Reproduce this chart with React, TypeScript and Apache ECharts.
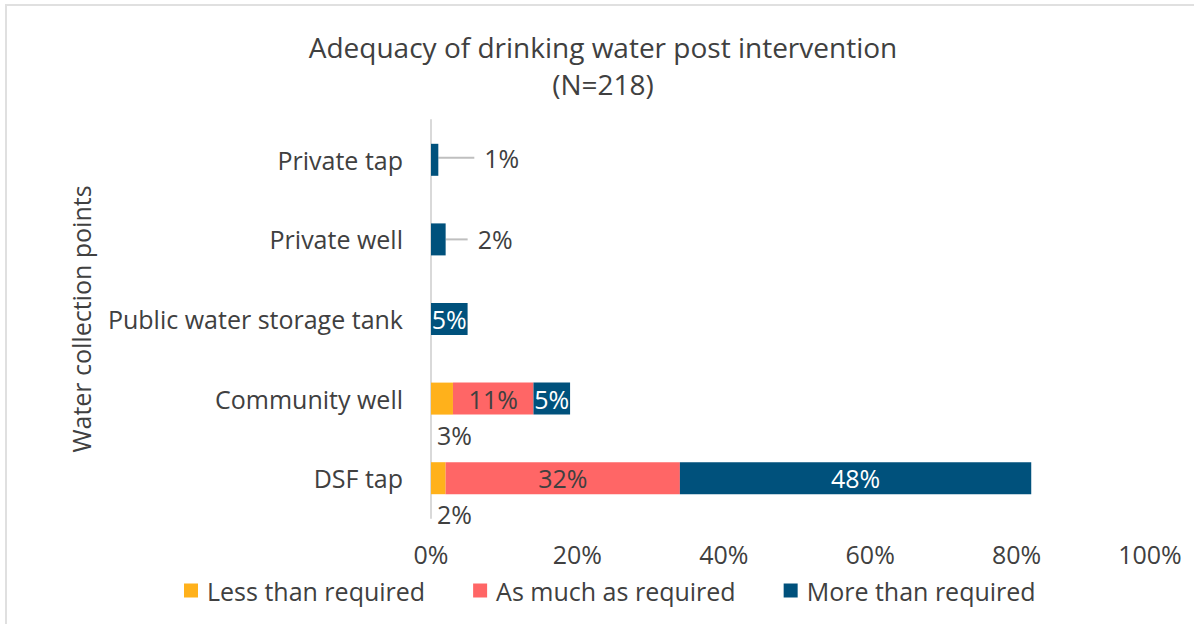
import React, { useEffect, useRef } from "react";
import * as echarts from "echarts";

// Water collection points, listed bottom-to-top for the category axis
const categories = [
  "DSF tap",
  "Community well",
  "Public water storage tank",
  "Private well",
  "Private tap",
];

// Shares of respondents (%) per adequacy level
const lessThanRequired = [2, 3, null, null, null];
const asMuchAsRequired = [32, 11, null, null, null];
const moreThanRequired = [48, 5, 5, 2, 1];

const seriesNames = ["Less than required", "As much as required", "More than required"];
const xTicks = [0, 20, 40, 60, 80, 100];

const FONT = "'Open Sans', 'Noto Sans', sans-serif";
const TEXT = "#404040";

export default function App() {
  const ref = useRef<HTMLDivElement>(null);

  useEffect(() => {
    document.body.style.margin = "0";
    if (!ref.current) return;
    const chart = echarts.init(ref.current, null, { renderer: "svg" });

    const pct = (p: any) => (p.value == null ? "" : `${p.value}%`);
    const lastTick = xTicks[xTicks.length - 1];

    chart.setOption({
      animation: false,
      backgroundColor: "#ffffff",
      textStyle: { fontFamily: FONT },
      title: {
        text: "Adequacy of drinking water post intervention\n(N=218)",
        left: 598,
        top: 23,
        textAlign: "center",
        textStyle: {
          fontFamily: FONT,
          fontSize: 28,
          fontWeight: "normal",
          color: TEXT,
          lineHeight: 37,
        },
      },
      legend: {
        data: seriesNames,
        top: 573,
        left: 179,
        icon: "rect",
        itemWidth: 14,
        itemHeight: 14,
        itemGap: 48,
        textStyle: { fontFamily: FONT, fontSize: 25, color: TEXT, padding: [0, 0, 0, 4] },
      },
      grid: { left: 431, right: 31, top: 120, bottom: 106, containLabel: false },
      xAxis: {
        type: "value",
        min: xTicks[0],
        max: lastTick,
        interval: 20,
        axisLine: { show: false },
        axisTick: { show: false },
        splitLine: { show: false },
        axisLabel: {
          formatter: (v: number) => (v === lastTick ? `{last|${v}%}` : `${v}%`),
          fontSize: 25,
          color: TEXT,
          margin: 23,
          fontFamily: FONT,
          rich: {
            last: { fontSize: 25, color: TEXT, fontFamily: FONT, padding: [0, 26, 0, 0] },
          },
        },
      },
      yAxis: {
        type: "category",
        data: categories,
        name: "Water collection points",
        nameLocation: "middle",
        nameGap: 338,
        nameTextStyle: { fontSize: 25, color: TEXT, fontFamily: FONT },
        axisLine: { show: true, lineStyle: { color: "#d9d9d9", width: 2 } },
        axisTick: { show: false },
        axisLabel: { fontSize: 25, color: TEXT, margin: 28, fontFamily: FONT },
      },
      series: [
        {
          name: seriesNames[0],
          type: "bar",
          stack: "total",
          barWidth: 32,
          data: lessThanRequired,
          itemStyle: { color: "#FFB11B" },
          label: {
            show: true,
            formatter: pct,
            position: [6, 52],
            align: "left",
            verticalAlign: "middle",
            fontSize: 25,
            color: TEXT,
            fontFamily: FONT,
          },
        },
        {
          name: seriesNames[1],
          type: "bar",
          stack: "total",
          barWidth: 32,
          data: asMuchAsRequired,
          itemStyle: { color: "#FF6666" },
          label: {
            show: true,
            formatter: pct,
            position: "inside",
            fontSize: 25,
            color: TEXT,
            fontFamily: FONT,
          },
        },
        {
          name: seriesNames[2],
          type: "bar",
          stack: "total",
          barWidth: 32,
          data: moreThanRequired.map((v, i) =>
            i >= 3
              ? {
                  value: v,
                  label: {
                    position: "right",
                    distance: 2,
                    color: TEXT,
                    // small spacer keeps the leader line clear of the text
                    formatter: (p: any) => `{gap|}{v|${p.value}%}`,
                    rich: {
                      gap: { width: 10 },
                      v: { fontSize: 25, color: TEXT, fontFamily: FONT },
                    },
                  },
                }
              : v
          ),
          itemStyle: { color: "#00517C" },
          label: {
            show: true,
            formatter: pct,
            position: "inside",
            fontSize: 25,
            color: "#ffffff",
            fontFamily: FONT,
          },
          labelLine: {
            show: true,
            lineStyle: { color: "#bfbfbf", width: 2 },
          },
          labelLayout: (p: any) =>
            p.dataIndex === 4 ? { dx: 34, dy: -2 } : p.dataIndex === 3 ? { dx: 20 } : {},
        },
      ],
      graphic: [
        {
          type: "rect",
          shape: { x: 6, y: 5, width: 1220, height: 700 },
          style: { fill: "none", stroke: "#e0e0e0", lineWidth: 2 },
          silent: true,
        },
      ],
    });

    return () => chart.dispose();
  }, []);

  return <div ref={ref} style={{ width: 1194, height: 624 }} />;
}
